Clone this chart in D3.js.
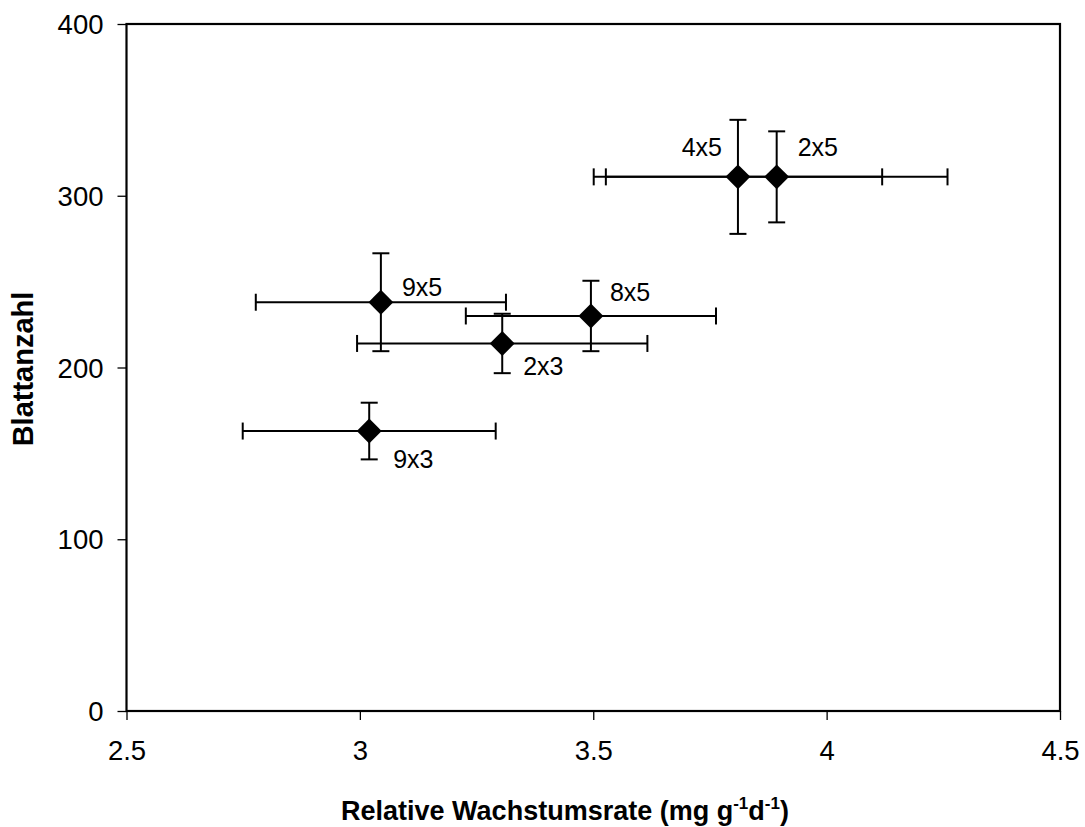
<!DOCTYPE html>
<html>
<head>
<meta charset="utf-8">
<script src="https://cdn.jsdelivr.net/npm/d3@7"></script>
<style>
  body { margin: 0; background: #fff; }
  text { font-family: "Liberation Sans", Arial, sans-serif; fill: #000; }
</style>
</head>
<body>
<div id="chart"></div>
<script>
// values
const crosses = ["9x5", "8x5", "2x3", "9x3", "4x5", "2x5"];
const rgr = [3.045, 3.495, 3.305, 3.020, 3.810, 3.893];
const rgrErr = [0.268, 0.268, 0.311, 0.271, 0.309, 0.366];
const leaves = [238, 230, 214, 163, 311, 311];
const leavesErr = [28.5, 20.5, 17.3, 16.5, 33.2, 26.5];
const xTicks = [2.5, 3, 3.5, 4, 4.5];
const yTicks = [0, 100, 200, 300, 400];

// label placement relative to the marker (dx, dy, anchor)
const labelPos = [[21, -6, "start"], [19, -15, "start"], [21, 32, "start"],
                  [24, 37, "start"], [-16, -21, "end"], [21, -21, "start"]];

const width = 1085, height = 827;
const margin = {top: 24, right: 25, bottom: 116, left: 126.5};

const svg = d3.select("#chart").append("svg")
  .attr("width", width)
  .attr("height", height);

const x = d3.scaleLinear().domain([2.5, 4.5]).range([margin.left, width - margin.right]);
const y = d3.scaleLinear().domain([0, 400]).range([height - margin.bottom, margin.top]);

const data = crosses.map((c, i) => ({
  name: c, x: rgr[i], xe: rgrErr[i], y: leaves[i], ye: leavesErr[i], pos: labelPos[i]
}));

// axes
const xAxis = d3.axisBottom(x).tickValues(xTicks).tickFormat(d3.format("")).tickSize(9).tickSizeOuter(0);
const yAxis = d3.axisLeft(y).tickValues(yTicks).tickSize(9).tickSizeOuter(0);

const gx = svg.append("g")
  .attr("transform", "translate(0," + y(0) + ")")
  .call(xAxis);
gx.select(".domain").remove();
gx.selectAll("line").attr("stroke", "#000").attr("stroke-width", 1.3);
gx.selectAll("text").attr("font-size", 27.5).attr("dy", 0).attr("y", 49);

const gy = svg.append("g")
  .attr("transform", "translate(" + x(2.5) + ",0)")
  .call(yAxis);
gy.select(".domain").remove();
gy.selectAll("line").attr("stroke", "#000").attr("stroke-width", 1.3);
gy.selectAll("text").attr("font-size", 27.5).attr("x", -23).attr("dy", "0.35em");

// plot frame
svg.append("rect")
  .attr("x", x(2.5)).attr("y", y(400))
  .attr("width", x(4.5) - x(2.5)).attr("height", y(0) - y(400))
  .attr("fill", "none").attr("stroke", "#000").attr("stroke-width", 2.2);

// error bars
const cap = 8.5;
const bars = svg.append("g").attr("stroke", "#000").attr("stroke-width", 2).attr("fill", "none");

data.forEach(d => {
  const g = bars.append("g");
  // horizontal
  g.append("line").attr("x1", x(d.x - d.xe)).attr("x2", x(d.x + d.xe)).attr("y1", y(d.y)).attr("y2", y(d.y));
  g.append("line").attr("x1", x(d.x - d.xe)).attr("x2", x(d.x - d.xe)).attr("y1", y(d.y) - cap).attr("y2", y(d.y) + cap);
  g.append("line").attr("x1", x(d.x + d.xe)).attr("x2", x(d.x + d.xe)).attr("y1", y(d.y) - cap).attr("y2", y(d.y) + cap);
  // vertical
  g.append("line").attr("x1", x(d.x)).attr("x2", x(d.x)).attr("y1", y(d.y - d.ye)).attr("y2", y(d.y + d.ye));
  g.append("line").attr("x1", x(d.x) - cap).attr("x2", x(d.x) + cap).attr("y1", y(d.y - d.ye)).attr("y2", y(d.y - d.ye));
  g.append("line").attr("x1", x(d.x) - cap).attr("x2", x(d.x) + cap).attr("y1", y(d.y + d.ye)).attr("y2", y(d.y + d.ye));
});

// diamond markers
svg.append("g").selectAll("path")
  .data(data).enter()
  .append("path")
  .attr("d", d3.symbol().type(d3.symbolSquare).size(310))
  .attr("transform", d => "translate(" + x(d.x) + "," + y(d.y) + ") rotate(45)")
  .attr("fill", "#000");

// point labels
svg.append("g").selectAll("text")
  .data(data).enter()
  .append("text")
  .attr("x", d => x(d.x) + d.pos[0])
  .attr("y", d => y(d.y) + d.pos[1])
  .attr("text-anchor", d => d.pos[2])
  .attr("font-size", 25)
  .text(d => d.name);

// axis titles
const xt = svg.append("text")
  .attr("x", 565).attr("y", 820)
  .attr("text-anchor", "middle")
  .attr("font-size", 27)
  .attr("font-weight", "bold");
xt.append("tspan").text("Relative Wachstumsrate (mg g");
xt.append("tspan").attr("font-size", 17).attr("dy", -11).text("-1");
xt.append("tspan").attr("dy", 11).text("d");
xt.append("tspan").attr("font-size", 17).attr("dy", -11).text("-1");
xt.append("tspan").attr("dy", 11).text(")");

svg.append("text")
  .attr("transform", "translate(33," + 369 + ") rotate(-90)")
  .attr("text-anchor", "middle")
  .attr("font-size", 29)
  .attr("font-weight", "bold")
  .text("Blattanzahl");
</script>
</body>
</html>
